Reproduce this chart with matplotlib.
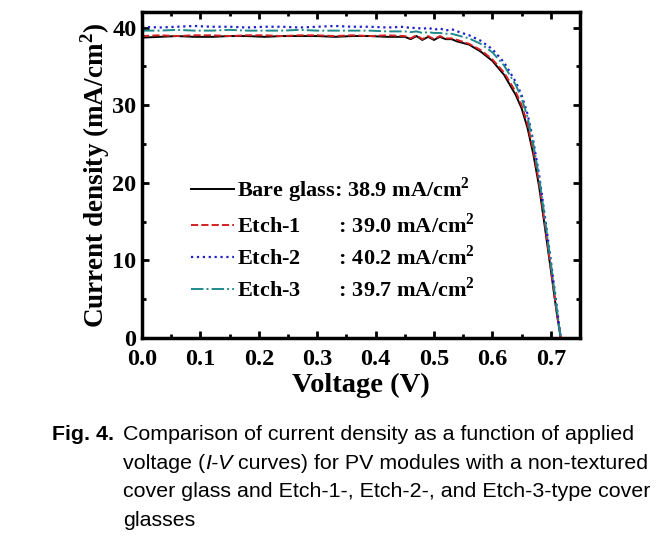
import numpy as np
import matplotlib.pyplot as plt
from matplotlib.ticker import MultipleLocator

# I-V curves
volt = [0.00, 0.03, 0.06, 0.09, 0.12, 0.15, 0.18, 0.21, 0.24, 0.27, 0.30, 0.33,
        0.36, 0.39, 0.42, 0.45, 0.46, 0.47, 0.48, 0.49, 0.50, 0.51, 0.52, 0.53,
        0.54, 0.56, 0.58, 0.60, 0.62, 0.64, 0.65, 0.66, 0.67, 0.68, 0.69, 0.70,
        0.71, 0.717]

bare = [38.7, 38.8, 38.9, 38.8, 38.8, 38.9, 38.9, 38.8, 38.9, 38.9, 38.9, 38.8,
        38.9, 38.9, 38.8, 38.8, 38.5, 38.9, 38.4, 38.8, 38.4, 38.8, 38.5, 38.5,
        38.2, 37.8, 36.9, 35.7, 33.9, 31.3, 29.6, 27.1, 23.7, 19.5, 14.2, 8.8,
        3.3, 0.0]
etch1 = [38.9, 39.0, 38.9, 39.0, 39.0, 38.9, 39.0, 39.0, 38.9, 39.0, 39.0, 38.9,
         39.0, 38.9, 39.0, 38.9, 38.6, 39.0, 38.5, 38.9, 38.5, 38.9, 38.6, 38.6,
         38.4, 37.9, 37.1, 35.9, 34.2, 31.7, 30.0, 27.6, 24.2, 20.0, 14.6, 9.0,
         3.4, 0.0]
etch2 = [40.1, 40.0, 40.1, 40.2, 40.1, 40.1, 40.0, 40.1, 40.1, 40.0, 40.1, 40.2,
         40.1, 40.1, 40.0, 40.1, 39.9, 40.0, 39.8, 40.0, 39.7, 39.9, 39.6, 39.8,
         39.5, 39.0, 38.3, 37.2, 35.5, 33.0, 31.3, 28.9, 25.4, 21.0, 15.6, 10.0,
         4.2, 0.0]
etch3 = [39.6, 39.6, 39.7, 39.6, 39.6, 39.7, 39.6, 39.6, 39.6, 39.7, 39.6, 39.6,
         39.6, 39.6, 39.5, 39.5, 39.4, 39.5, 39.3, 39.4, 39.3, 39.3, 39.2, 39.2,
         39.0, 38.6, 37.9, 36.8, 35.1, 32.6, 30.9, 28.5, 25.0, 20.7, 15.3, 9.7,
         3.9, 0.0]
labels = ['Bare glass: 38.9 mA/cm$^{\\mathbf{2}}$',
          'Etch-1       : 39.0 mA/cm$^{\\mathbf{2}}$',
          'Etch-2       : 40.2 mA/cm$^{\\mathbf{2}}$',
          'Etch-3       : 39.7 mA/cm$^{\\mathbf{2}}$']

plt.rcParams['mathtext.fontset'] = 'custom'
plt.rcParams['mathtext.rm'] = 'Liberation Serif'
plt.rcParams['mathtext.bf'] = 'Liberation Serif:bold'
serif = 'Liberation Serif'

fig = plt.figure(figsize=(6.58, 5.44), dpi=100)
ax = fig.add_axes([142/658, 1-338/544, 438/658, 326/544])

ax.plot(volt, bare, '-', color='black', lw=1.4, label=labels[0])
ax.plot(volt, etch1, '--', color='#d42020', lw=1.4, label=labels[1])
ax.plot(volt, etch2, ':', color='#1f1fd0', lw=1.6, label=labels[2])
ax.plot(volt, etch3, '-.', color='#1f8a8a', lw=1.4, label=labels[3])

ax.set_xlim(0, 0.75)
ax.set_ylim(0, 42)
ax.xaxis.set_major_locator(MultipleLocator(0.1))
ax.xaxis.set_minor_locator(MultipleLocator(0.05))
ax.yaxis.set_major_locator(MultipleLocator(10))
ax.yaxis.set_minor_locator(MultipleLocator(5))
ax.tick_params(which='both', direction='in', top=True, right=True, width=2)
ax.tick_params(which='major', length=5, labelsize=17.5)
ax.tick_params(axis='x', which='major', pad=8)
ax.tick_params(axis='y', which='major', pad=4)
ax.tick_params(which='minor', length=3)
for s in ax.spines.values():
    s.set_linewidth(2.5)
for t in ax.get_xticklabels() + ax.get_yticklabels():
    t.set_fontfamily(serif)
    t.set_fontweight('bold')

ax.set_xlabel('Voltage (V)', fontsize=20.5, fontweight='bold', family=serif, labelpad=2)
ax.set_ylabel('Current density (mA/cm$^{\\mathbf{2}}$)', fontsize=19.5,
              fontweight='bold', family=serif, labelpad=0)

leg = ax.legend(loc='upper left', bbox_to_anchor=(0.067, 0.56), frameon=False,
                handlelength=1.9, handletextpad=0.15, labelspacing=0.35,
                prop={'family': serif, 'weight': 'bold', 'size': 16})

# caption
cap = dict(fontsize=15.4, family='Liberation Sans', va='baseline')
fig.text(52/658, 1-440/544, 'Fig. 4.', fontweight='bold', **cap)
x0 = 123/658
fig.text(x0, 1-440/544, 'Comparison of current density as a function of applied', **cap)
y2 = 1-469/544
r = fig.canvas.get_renderer()
xx = x0
for piece, st in [('voltage (', 'normal'), ('I-V', 'italic'),
                  (' curves) for PV modules with a non-textured', 'normal')]:
    t = fig.text(xx, y2, piece, style=st, **cap)
    xx += t.get_window_extent(renderer=r).width / fig.bbox.width
fig.text(x0, 1-497/544, 'cover glass and Etch-1-, Etch-2-, and Etch-3-type cover', **cap)
fig.text(x0, 1-526/544, 'glasses', **cap)

fig.savefig('out.png', dpi=100)
